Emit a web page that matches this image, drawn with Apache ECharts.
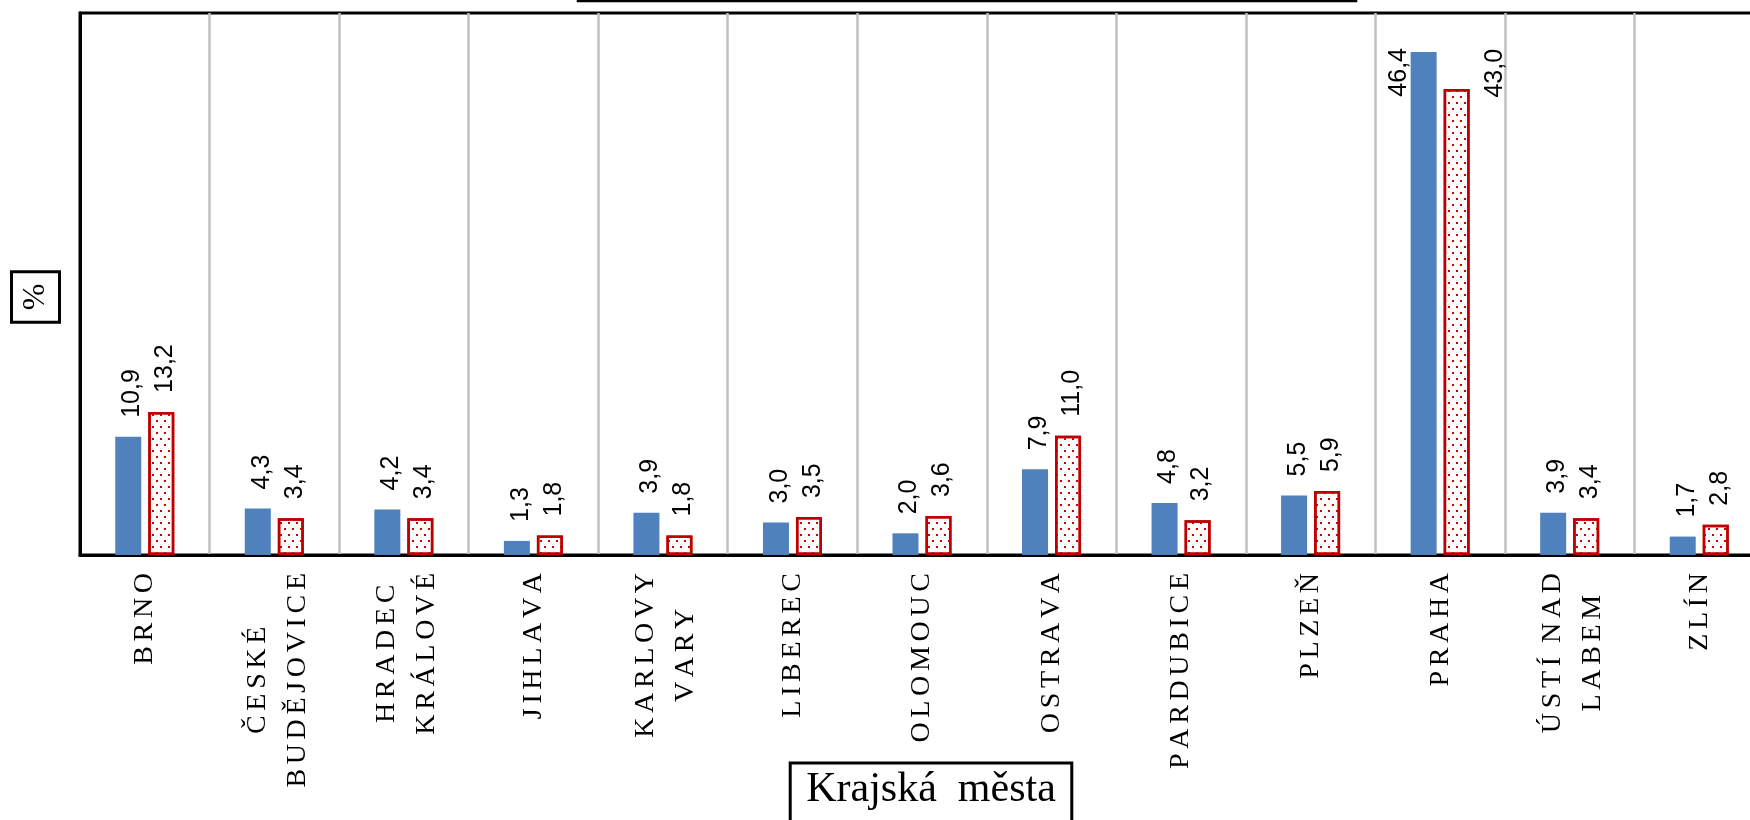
<!DOCTYPE html>
<html>
<head>
<meta charset="utf-8">
<script src="https://cdn.jsdelivr.net/npm/echarts@6/dist/echarts.min.js"></script>
<style>
html,body{margin:0;padding:0;background:#fff;overflow:hidden;width:1750px;height:820px}
#chart{width:1780px;height:820px}
</style>
</head>
<body>
<div id="chart"></div>
<script>
// ---- data ----
const categories = ['BRNO', 'ČESKÉ\nBUDĚJOVICE', 'HRADEC\nKRÁLOVÉ', 'JIHLAVA', 'KARLOVY\nVARY', 'LIBEREC', 'OLOMOUC', 'OSTRAVA', 'PARDUBICE', 'PLZEŇ', 'PRAHA', 'ÚSTÍ NAD\nLABEM', 'ZLÍN'];
const seriesNames = ['Řada 1', 'Řada 2'];
const valuesBlue = [10.9, 4.3, 4.2, 1.3, 3.9, 3.0, 2.0, 7.9, 4.8, 5.5, 46.4, 3.9, 1.7];
const valuesRed  = [13.2, 3.4, 3.4, 1.8, 1.8, 3.5, 3.6, 11.0, 3.2, 5.9, 43.0, 3.4, 2.8];
const yAxisTitle = '%';
const xAxisTitle = 'Krajská  města';
const yMin = 0;
const yMax = 50;

// ---- helpers ----
const fmt = v => v.toFixed(1).replace('.', ',');
const LS = '\u2006'; // letter spacing
const spaced = line => line.split(' ').map(w => Array.from(w).join(LS)).join('  ');
const OVERFLOW = 40; // labels of bars above this value are placed beside the bar

const chart = echarts.init(document.getElementById('chart'), null, {renderer: 'canvas'});

const baseLabel = {
  show: true,
  position: 'top',
  distance: 19,
  rotate: 90,
  align: 'left',
  verticalAlign: 'middle',
  offset: [0, 4],
  fontFamily: 'Liberation Sans',
  fontSize: 25,
  color: '#000',
  formatter: p => fmt(p.value)
};

const blueData = valuesBlue.map(v => v > OVERFLOW
  ? {value: v, label: {position: [-16, -4], align: 'right'}}
  : v);
const redData = valuesRed.map(v => v > OVERFLOW
  ? {value: v, label: {position: [47, -40], align: 'right'}}
  : v);

// multi-line category labels sit slightly further right, as in the source
const axisData = categories.map(c => c.indexOf('\n') >= 0
  ? {value: c, textStyle: {padding: [6, 0, 0, 0]}}
  : c);

const option = {
  animation: false,
  backgroundColor: '#fff',
  grid: {
    left: 80, top: 13, width: 1684, height: 542,
    show: true, borderColor: '#000', borderWidth: 3, backgroundColor: 'transparent',
    containLabel: false
  },
  xAxis: {
    type: 'category',
    data: axisData,
    boundaryGap: true,
    axisLine: {show: true, lineStyle: {color: '#000', width: 3}},
    axisTick: {show: false},
    splitLine: {
      show: true,
      interval: (idx) => idx !== 0,
      lineStyle: {color: '#c0c0c0', width: 2.5}
    },
    axisLabel: {
      interval: 0,
      rotate: 90,
      margin: 18,
      fontFamily: 'Liberation Serif',
      fontSize: 28,
      color: '#000',
      lineHeight: 40,
      formatter: v => v.split('\n').map(l => '{c|' + spaced(l) + '}').join('\n'),
      rich: {
        c: {align: 'center', fontFamily: 'Liberation Serif', fontSize: 28, color: '#000', lineHeight: 40}
      }
    }
  },
  yAxis: {
    type: 'value',
    min: yMin,
    max: yMax,
    axisLabel: {show: false},
    axisTick: {show: false},
    splitLine: {show: false},
    axisLine: {show: true, lineStyle: {color: '#000', width: 3}}
  },
  series: [
    {
      name: seriesNames[0],
      type: 'bar',
      data: blueData,
      barWidth: 26,
      barGap: '27%',
      itemStyle: {color: '#4f81bd'},
      label: baseLabel
    },
    {
      name: seriesNames[1],
      type: 'bar',
      data: redData,
      barWidth: 26,
      barGap: '27%',
      itemStyle: {
        color: '#ffffff',
        borderColor: '#c00000',
        borderWidth: 2.5,
        decal: {
          symbol: 'rect',
          symbolSize: 1,
          color: '#d40000',
          dashArrayX: [[2, 6], [0, 4, 2, 2]],
          dashArrayY: [2, 4],
          rotation: 0
        }
      },
      label: baseLabel
    }
  ],
  graphic: [
    {
      type: 'rect',
      silent: true,
      shape: {x: 578, y: -60, width: 778, height: 61},
      style: {fill: 'none', stroke: '#000', lineWidth: 2.5}
    },
    {
      type: 'text',
      silent: true,
      x: 35.5, y: 297,
      rotation: Math.PI / 2,
      style: {
        text: yAxisTitle,
        font: '32px "Liberation Serif"',
        fill: '#000',
        align: 'center', verticalAlign: 'middle',
        textAlign: 'center', textVerticalAlign: 'middle',
        borderColor: '#000', borderWidth: 3,
        padding: [8, 12, 8, 12]
      }
    },
    {
      type: 'text',
      silent: true,
      x: 931, y: 763,
      style: {
        text: xAxisTitle,
        font: '42px "Liberation Serif"',
        fill: '#000',
        align: 'center', verticalAlign: 'top',
        textAlign: 'center', textVerticalAlign: 'top',
        borderColor: '#000', borderWidth: 3,
        padding: [6, 16, 30, 16]
      }
    }
  ]
};

chart.setOption(option);
</script>
</body>
</html>
